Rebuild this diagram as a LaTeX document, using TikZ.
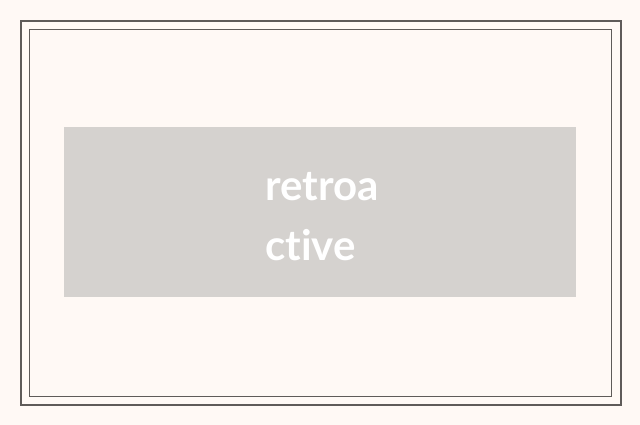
\documentclass[tikz,border=0pt]{standalone}
\usepackage{fontspec}
\setmainfont{Lato}[Ligatures={NoCommon}]
\usetikzlibrary{positioning}
\definecolor{paper}{HTML}{FFF9F5}
\definecolor{frameline}{HTML}{5F5B59}
\definecolor{boxgray}{HTML}{D5D2CF}
\tikzset{
frame/.style={draw=frameline, line width=2pt},
innerframe/.style={draw=frameline, line width=1pt},
card/.style={fill=boxgray, draw=none, inner sep=0pt, anchor=north west, minimum width=512pt, minimum height=170pt},
word/.style={text=white, font=\fontsize{42}{60}\selectfont\bfseries, align=left, inner sep=0pt, anchor=base west},
}
\begin{document}
\begin{tikzpicture}[x=1pt, y=-1pt]
    \fill[paper] (0,0) rectangle (640,425);
    \useasboundingbox (0,0) rectangle (640,425);
    \draw[frame] (21,21) rectangle (621,405);
    \draw[innerframe] (29.5,29.5) rectangle (611.5,396.5);
    \node[card] (box) at (64,127) {};
    \node[word] (label) at (265,260) {retroa\\ctive};
\end{tikzpicture}
\end{document}
